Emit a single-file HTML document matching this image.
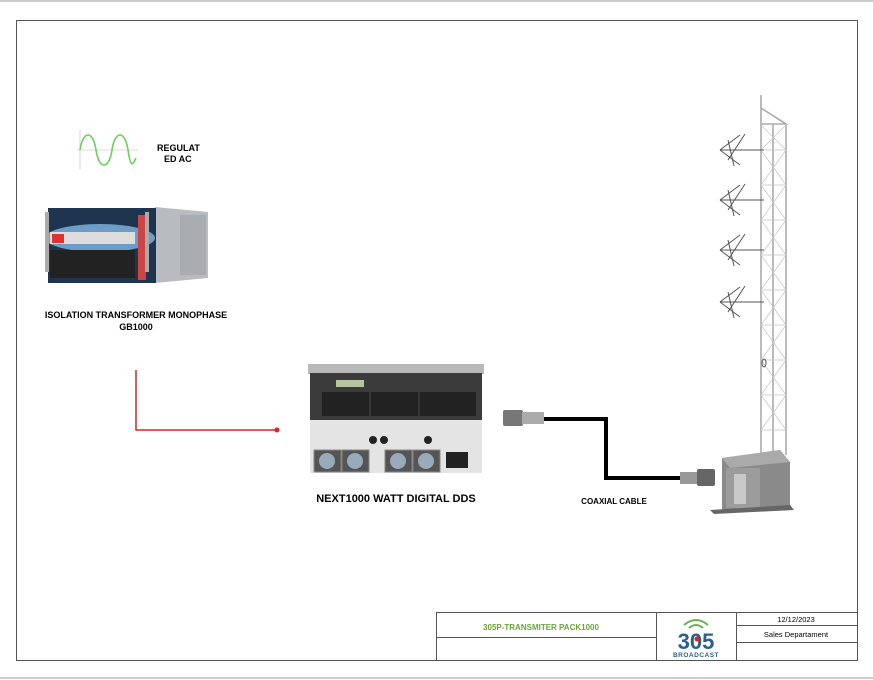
<!DOCTYPE html>
<html><head><meta charset="utf-8"><style>
html,body{margin:0;padding:0;background:#fff;}
svg{display:block;font-family:"Liberation Sans",Arial,sans-serif;}
</style></head><body>
<svg width="873" height="680" viewBox="0 0 873 680" xmlns="http://www.w3.org/2000/svg">
<rect width="873" height="680" fill="#fff"/>
<line x1="0" y1="1" x2="873" y2="1" stroke="#999" stroke-width="1"/>
<line x1="0" y1="678" x2="873" y2="678" stroke="#999" stroke-width="1"/>
<rect x="16.5" y="20.5" width="841" height="640" fill="none" stroke="#555" stroke-width="1"/>

<!-- sine wave -->
<g stroke="#bbb" stroke-width="0.6" fill="none">
<line x1="80" y1="130" x2="80" y2="170"/><line x1="77" y1="150" x2="138" y2="150"/>
</g>
<path d="M80 150 C83 130, 93 130, 96 150 S109 170, 112 150 S125 130, 128 150 S133 164, 136 158" stroke="#6ccf5a" stroke-width="1.6" fill="none"/>
<text x="157" y="151" font-size="9" font-weight="bold">REGULAT</text>
<text x="164" y="162" font-size="9" font-weight="bold">ED AC</text>

<!-- isolation transformer -->
<polygon points="155,207 208,212 208,278 155,283" fill="#b8bcc0"/>
<rect x="180" y="215" width="26" height="60" fill="#a9adb1"/>
<rect x="48" y="208" width="108" height="75" fill="#1e3550"/>
<ellipse cx="100" cy="238" rx="55" ry="14" fill="#6e9cc8"/>
<rect x="50" y="232" width="85" height="12" fill="#ddd"/>
<rect x="52" y="234" width="12" height="9" fill="#d33"/>
<rect x="50" y="250" width="85" height="28" fill="#222"/>
<rect x="138" y="215" width="8" height="65" fill="#c44"/>
<rect x="45" y="212" width="4" height="60" fill="#aaa"/>
<rect x="145" y="212" width="4" height="60" fill="#aaa"/>
<text x="136" y="318" font-size="9" font-weight="bold" text-anchor="middle">ISOLATION TRANSFORMER MONOPHASE</text>
<text x="136" y="330" font-size="9" font-weight="bold" text-anchor="middle">GB1000</text>

<!-- red connector -->
<polyline points="136,370 136,430 277,430" stroke="#d22" stroke-width="1.5" fill="none"/>
<circle cx="277" cy="430" r="2.5" fill="#d22"/>

<!-- transmitter -->
<rect x="308" y="364" width="176" height="10" fill="#b9b9b9"/>
<rect x="310" y="373" width="172" height="47" fill="#3b3b3b"/>
<rect x="336" y="380" width="28" height="7" fill="#b8c4a0"/>
<rect x="322" y="392" width="154" height="24" fill="#222"/>
<g stroke="#555" stroke-width="0.8"><line x1="370" y1="392" x2="370" y2="416"/><line x1="419" y1="392" x2="419" y2="416"/></g>
<rect x="310" y="420" width="172" height="53" fill="#e4e4e4"/>
<g fill="#222"><circle cx="373" cy="440" r="4"/><circle cx="384" cy="440" r="4"/><circle cx="428" cy="440" r="4"/></g>
<g fill="#555" stroke="#888"><rect x="314" y="450" width="27" height="22"/><rect x="342" y="450" width="27" height="22"/><rect x="385" y="450" width="27" height="22"/><rect x="413" y="450" width="27" height="22"/></g>
<g fill="#9ab" ><circle cx="327" cy="461" r="8"/><circle cx="355" cy="461" r="8"/><circle cx="398" cy="461" r="8"/><circle cx="426" cy="461" r="8"/></g>
<rect x="446" y="452" width="22" height="16" fill="#222"/>
<text x="396" y="502" font-size="11" font-weight="bold" text-anchor="middle">NEXT1000 WATT DIGITAL DDS</text>

<!-- coaxial cable -->
<polyline points="543,419 606,419 606,478 680,478" stroke="#000" stroke-width="4" fill="none"/>
<rect x="503" y="410" width="20" height="16" fill="#777" rx="2"/>
<rect x="522" y="412" width="22" height="12" fill="#aaa"/>
<rect x="680" y="472" width="18" height="12" fill="#999"/>
<rect x="697" y="469" width="18" height="17" fill="#666" rx="2"/>
<text x="614" y="504" font-size="8" font-weight="bold" text-anchor="middle">COAXIAL CABLE</text>

<!-- tower -->
<g stroke="#aaa" stroke-width="1.6" fill="none">
<line x1="761" y1="95" x2="761" y2="455"/>
<line x1="786" y1="125" x2="786" y2="455"/>
<line x1="773" y1="125" x2="773" y2="455"/>
<polyline points="761,108 786,124 761,124"/>
</g>
<g stroke="#c4c4c4" stroke-width="0.7" fill="none">
<path d="M761 150 L786 185 M786 150 L761 185 M761 185 L786 220 M786 185 L761 220 M761 220 L786 255 M786 220 L761 255 M761 255 L786 290 M786 255 L761 290 M761 290 L786 325 M786 290 L761 325 M761 325 L786 360 M786 325 L761 360 M761 360 L786 395 M786 360 L761 395 M761 395 L786 430 M786 395 L761 430 M761 125 L786 150 M786 125 L761 150"/>
<path d="M761 150H786M761 185H786M761 220H786M761 255H786M761 290H786M761 325H786M761 360H786M761 395H786M761 430H786"/>
</g>
<g stroke="#555" stroke-width="1" fill="none">
<g id="ant"><line x1="720" y1="150" x2="764" y2="150"/><line x1="720" y1="150" x2="740" y2="135"/><line x1="720" y1="150" x2="740" y2="165"/><line x1="728" y1="160" x2="745" y2="134"/><line x1="728" y1="140" x2="734" y2="166"/></g>
<use href="#ant" y="50"/><use href="#ant" y="100"/><use href="#ant" y="152"/>
<ellipse cx="764" cy="363" rx="2" ry="4"/>
</g>

<!-- shelter -->
<polygon points="722,458 780,450 790,462 790,506 722,510" fill="#8a8a8a"/>
<polygon points="722,458 780,450 790,462 730,468" fill="#aaa"/>
<rect x="726" y="468" width="34" height="40" fill="#9c9c9c"/>
<rect x="734" y="474" width="12" height="30" fill="#c8c8c8"/>
<polygon points="710,510 790,505 794,510 714,514" fill="#666"/>

<!-- title block -->
<g stroke="#555" stroke-width="1" fill="none">
<rect x="436.5" y="612.5" width="421" height="48"/>
<line x1="656.5" y1="612" x2="656.5" y2="660"/>
<line x1="736.5" y1="612" x2="736.5" y2="660"/>
<line x1="436" y1="637.5" x2="656" y2="637.5"/>
<line x1="736" y1="625.5" x2="857" y2="625.5"/>
<line x1="736" y1="642.5" x2="857" y2="642.5"/>
</g>
<text x="541" y="630" font-size="8" font-weight="bold" fill="#6aa63a" text-anchor="middle">305P-TRANSMITER PACK1000</text>
<text x="796" y="622" font-size="7.5" text-anchor="middle">12/12/2023</text>
<text x="796" y="637" font-size="7.5" text-anchor="middle">Sales Departament</text>
<path d="M684 625 Q696 615 708 625" stroke="#6ab04c" stroke-width="2" fill="none"/>
<path d="M689 628 Q696 622 703 628" stroke="#6ab04c" stroke-width="2" fill="none"/>
<text x="696" y="649" font-size="22" font-weight="bold" fill="#2b5f8e" text-anchor="middle">305</text>
<circle cx="697" cy="639" r="2.5" fill="#d22"/>
<text x="696" y="657" font-size="6.5" font-weight="bold" fill="#2b5f8e" text-anchor="middle" letter-spacing="0.5">BROADCAST</text>
</svg>
</body></html>
